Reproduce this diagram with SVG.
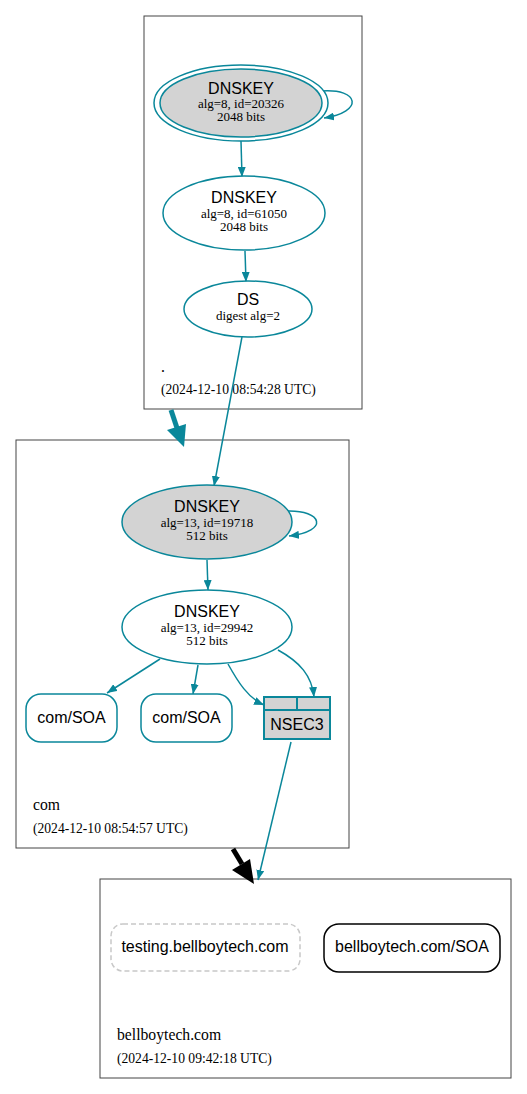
<svg xmlns="http://www.w3.org/2000/svg" width="527" height="1094" viewBox="0 0 527 1094">
<style>
.cl{fill:#fff;stroke:#444;stroke-width:1}
.n{fill:#fff;stroke:#0a879a;stroke-width:1.5}
.nf{fill:#d3d3d3;stroke:#0a879a;stroke-width:1.5}
.e{fill:none;stroke:#0a879a;stroke-width:1.5}
.t{font-family:"Liberation Sans",Arial,sans-serif;font-size:16px;fill:#000;text-anchor:middle}
.s{font-family:"Liberation Serif","Times New Roman",serif;font-size:13px;fill:#000;text-anchor:middle}
.z{font-family:"Liberation Serif","Times New Roman",serif;fill:#000}
</style>
<defs>
<marker id="a" markerWidth="10" markerHeight="8" refX="10" refY="4" orient="auto" markerUnits="userSpaceOnUse">
<path d="M0,0 L10,4 L0,8 Z" fill="#0a879a"/>
</marker>
</defs>
<rect width="527" height="1094" fill="#fff"/>
<g id="cluster-root">
<rect class="cl" x="144" y="16" width="218" height="393"/>
<text class="z" x="161" y="372" font-size="15.7">.</text>
<text class="z" x="161" y="394" font-size="13.6">(2024-12-10 08:54:28 UTC)</text>
</g>
<g id="cluster-com">
<rect class="cl" x="16" y="440" width="333" height="408"/>
<text class="z" x="33" y="810" font-size="15.7">com</text>
<text class="z" x="33" y="833" font-size="13.6">(2024-12-10 08:54:57 UTC)</text>
</g>
<g id="cluster-bellboytech">
<rect class="cl" x="100" y="879" width="411" height="199"/>
<text class="z" x="117" y="1040" font-size="15.7">bellboytech.com</text>
<text class="z" x="117" y="1063" font-size="13.6">(2024-12-10 09:42:18 UTC)</text>
</g>
<g id="connectors">
<path class="e" d="M321,91 C360,88 364,112 324,118" marker-end="url(#a)"/>
<path class="e" d="M241,141 L242,177" marker-end="url(#a)"/>
<path class="e" d="M245,251 L246,282" marker-end="url(#a)"/>
<path class="e" d="M242,337 L214,486" marker-end="url(#a)"/>
<path class="e" d="M287,511 C322,510 330,531 289,536" marker-end="url(#a)"/>
<path class="e" d="M207,560 L208,590" marker-end="url(#a)"/>
<path class="e" d="M160,659 L107,693" marker-end="url(#a)"/>
<path class="e" d="M198,665 L193,694" marker-end="url(#a)"/>
<path class="e" d="M228,664 C238,682 248,698 264,705" marker-end="url(#a)"/>
<path class="e" d="M278,650 C300,662 312,676 314,697" marker-end="url(#a)"/>
<path class="e" d="M291,742 L258,880" marker-end="url(#a)"/>
<path d="M171,410 L177,428" stroke="#0a879a" stroke-width="5" fill="none"/>
<polygon points="167,430 186,424 184,447" fill="#0a879a"/>
<path d="M233,849 L242,864" stroke="#000" stroke-width="5" fill="none"/>
<polygon points="232,870 250,859 254,884" fill="#000"/>
</g>
<g id="dnskey-20326">
<ellipse cx="241" cy="103" rx="87" ry="38" fill="#fff" stroke="#0a879a" stroke-width="1.5"/>
<ellipse class="nf" cx="241" cy="103" rx="81" ry="34"/>
<text class="t" x="241" y="94">DNSKEY</text>
<text class="s" x="241" y="108">alg=8, id=20326</text>
<text class="s" x="241" y="121">2048 bits</text>
</g>
<g id="dnskey-61050">
<ellipse class="n" cx="244" cy="213" rx="81" ry="37"/>
<text class="t" x="244" y="203">DNSKEY</text>
<text class="s" x="244" y="218">alg=8, id=61050</text>
<text class="s" x="244" y="231">2048 bits</text>
</g>
<g id="ds">
<ellipse class="n" cx="248" cy="309" rx="64" ry="28"/>
<text class="t" x="248" y="305">DS</text>
<text class="s" x="248" y="320">digest alg=2</text>
</g>
<g id="dnskey-19718">
<ellipse class="nf" cx="207" cy="522" rx="85" ry="37"/>
<text class="t" x="207" y="512">DNSKEY</text>
<text class="s" x="207" y="527">alg=13, id=19718</text>
<text class="s" x="207" y="540">512 bits</text>
</g>
<g id="dnskey-29942">
<ellipse class="n" cx="207" cy="627" rx="85" ry="37"/>
<text class="t" x="207" y="617">DNSKEY</text>
<text class="s" x="207" y="632">alg=13, id=29942</text>
<text class="s" x="207" y="645">512 bits</text>
</g>
<g id="com-soa-1">
<rect class="n" x="26" y="694" width="91" height="48" rx="15"/>
<text class="t" x="71.5" y="723">com/SOA</text>
</g>
<g id="com-soa-2">
<rect class="n" x="141" y="694" width="91" height="48" rx="15"/>
<text class="t" x="186.5" y="723">com/SOA</text>
</g>
<g id="nsec3">
<rect x="264" y="697" width="66" height="42" fill="#d3d3d3" stroke="#0a879a" stroke-width="2"/>
<line x1="264" y1="710" x2="330" y2="710" stroke="#0a879a" stroke-width="2"/>
<line x1="297" y1="697" x2="297" y2="710" stroke="#0a879a" stroke-width="2"/>
<text class="t" x="297" y="730">NSEC3</text>
</g>
<g id="testing-bellboytech">
<rect x="111" y="924" width="189" height="47" rx="12" fill="#fff" stroke="#c8c8c8" stroke-width="1.5" stroke-dasharray="5,3"/>
<text class="t" x="205" y="952">testing.bellboytech.com</text>
</g>
<g id="bellboytech-soa">
<rect x="324" y="924" width="176" height="48" rx="15" fill="#fff" stroke="#000" stroke-width="1.5"/>
<text class="t" x="412" y="952">bellboytech.com/SOA</text>
</g>
</svg>
